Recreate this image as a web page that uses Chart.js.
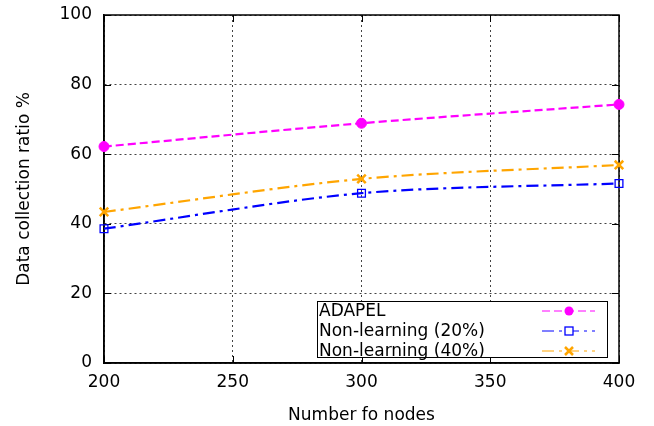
<!DOCTYPE html>
<html>
<head>
<meta charset="utf-8">
<script src="https://cdn.jsdelivr.net/npm/chart.js@4.4.1/dist/chart.umd.min.js"></script>
<style>
html,body{margin:0;padding:0;background:#fff;}
#wrap{width:654px;height:426px;}
</style>
</head>
<body>
<div id="wrap"><canvas id="c" width="654" height="426"></canvas></div>
<script>
const nodes = [200, 300, 400];
const adapel = [62.2, 68.9, 74.3];
const nonLearning20 = [38.6, 48.8, 51.6];
const nonLearning40 = [43.4, 52.9, 56.9];
const xTicks = [200, 250, 300, 350, 400];
const yTicks = [0, 20, 40, 60, 80, 100];
const seriesLabels = ['ADAPEL', 'Non-learning (20%)', 'Non-learning (40%)'];

const FONT = '"DejaVu Sans", Verdana, sans-serif';
const toPts = arr => arr.map((v, i) => ({x: nodes[i], y: v}));

const legendPlugin = {
  id: 'gpLegend',
  afterDraw(chart) {
    const ctx = chart.ctx;
    const ca = chart.chartArea;
    const bx = ca.left + 213, by = ca.top + 286, bw = 290, bh = 56;
    ctx.save();
    ctx.fillStyle = '#fff';
    ctx.fillRect(bx, by, bw, bh);
    ctx.strokeStyle = '#000';
    ctx.lineWidth = 1;
    ctx.strokeRect(bx + 0.5, by + 0.5, bw, bh);
    ctx.font = '17px ' + FONT;
    ctx.textBaseline = 'middle';
    ctx.textAlign = 'left';
    chart.data.datasets.forEach((ds, i) => {
      const y = by + 10 + i * 20;
      ctx.fillStyle = '#000';
      ctx.fillText(ds.label, bx + 2, y + 1);
      ctx.strokeStyle = ds.borderColor;
      ctx.lineWidth = 1;
      ctx.setLineDash(ds.borderDash || []);
      ctx.beginPath();
      ctx.moveTo(bx + 225, y);
      ctx.lineTo(bx + 278, y);
      ctx.stroke();
      ctx.setLineDash([]);
      const mx = bx + 252;
      ctx.lineWidth = ds.pointBorderWidth;
      ctx.strokeStyle = ds.pointBorderColor;
      ctx.fillStyle = ds.pointBackgroundColor;
      if (ds.pointStyle === 'circle') {
        ctx.beginPath(); ctx.arc(mx, y, 4.5, 0, Math.PI * 2); ctx.fill();
      } else if (ds.pointStyle === 'rect') {
        ctx.fillStyle = '#fff';
        ctx.fillRect(mx - 4, y - 4, 8, 8);
        ctx.strokeRect(mx - 4, y - 4, 8, 8);
      } else {
        ctx.beginPath();
        ctx.moveTo(mx - 4, y - 4); ctx.lineTo(mx + 4, y + 4);
        ctx.moveTo(mx - 4, y + 4); ctx.lineTo(mx + 4, y - 4);
        ctx.stroke();
      }
    });
    ctx.restore();
  }
};

const framePlugin = {
  id: 'frame',
  beforeDatasetsDraw(chart) {
    const {ctx, chartArea: ca, scales} = chart;
    ctx.save();
    ctx.strokeStyle = '#000';
    ctx.lineWidth = 1;
    xTicks.forEach(v => {
      const px = Math.round(scales.x.getPixelForValue(v)) + 0.5;
      ctx.beginPath();
      ctx.moveTo(px, ca.bottom); ctx.lineTo(px, ca.bottom - 7);
      ctx.moveTo(px, ca.top); ctx.lineTo(px, ca.top + 7);
      ctx.stroke();
    });
    yTicks.forEach(v => {
      const py = Math.round(scales.y.getPixelForValue(v)) + 0.5;
      ctx.beginPath();
      ctx.moveTo(ca.left, py); ctx.lineTo(ca.left + 7, py);
      ctx.moveTo(ca.right, py); ctx.lineTo(ca.right - 7, py);
      ctx.stroke();
    });
    ctx.lineWidth = 1.5;
    ctx.strokeRect(ca.left, ca.top, ca.right - ca.left, ca.bottom - ca.top);
    ctx.restore();
  }
};

new Chart(document.getElementById('c'), {
  type: 'line',
  data: {
    datasets: [
      {
        label: seriesLabels[0], data: toPts(adapel),
        borderColor: '#ff00ff', borderWidth: 2.2, borderDash: [8, 4],
        pointStyle: 'circle', pointRadius: 5, pointBackgroundColor: '#ff00ff',
        pointBorderColor: '#ff00ff', pointBorderWidth: 1, tension: 0.3
      },
      {
        label: seriesLabels[1], data: toPts(nonLearning20),
        borderColor: '#0000ff', borderWidth: 2.2, borderDash: [12, 5, 3, 5],
        pointStyle: 'rect', pointRadius: 5.5, pointBackgroundColor: 'rgba(0,0,0,0)',
        pointBorderColor: '#0000ff', pointBorderWidth: 1.3, tension: 0.3
      },
      {
        label: seriesLabels[2], data: toPts(nonLearning40),
        borderColor: '#ffa500', borderWidth: 2.2, borderDash: [12, 5, 3, 5],
        pointStyle: 'crossRot', pointRadius: 6, pointBackgroundColor: '#ffa500',
        pointBorderColor: '#ffa500', pointBorderWidth: 2.5, tension: 0.3
      }
    ]
  },
  options: {
    responsive: false,
    animation: false,
    clip: false,
    layout: {padding: {top: 15, right: 35, left: 0, bottom: 0}},
    plugins: {legend: {display: false}, tooltip: {enabled: false}},
    scales: {
      x: {
        type: 'linear', min: 200, max: 400,
        afterBuildTicks: s => { s.ticks = xTicks.map(v => ({value: v})); },
        afterFit: s => { s.height = 63; s.paddingLeft = 0; s.paddingRight = 0; },
        border: {display: true, color: '#000', width: 1.5, dash: [2, 3]},
        grid: {color: '#444', lineWidth: 1, drawTicks: false},
        ticks: {color: '#000', font: {family: FONT, size: 17}, padding: 9, maxRotation: 0},
        title: {display: true, text: 'Number fo nodes', color: '#000',
                font: {family: FONT, size: 17}, padding: {top: 2, bottom: 0}}
      },
      y: {
        min: 0, max: 100,
        afterBuildTicks: s => { s.ticks = yTicks.map(v => ({value: v})); },
        afterFit: s => { s.width = 104; s.paddingTop = 0; s.paddingBottom = 0; },
        border: {display: true, color: '#000', width: 1.5, dash: [2, 3]},
        grid: {color: '#444', lineWidth: 1, drawTicks: false},
        ticks: {color: '#000', font: {family: FONT, size: 17}, padding: 12},
        title: {display: true, text: 'Data collection ratio %', color: '#000',
                font: {family: FONT, size: 17}, padding: {top: 14, bottom: 0}}
      }
    }
  },
  plugins: [framePlugin, legendPlugin]
});
</script>
</body>
</html>
